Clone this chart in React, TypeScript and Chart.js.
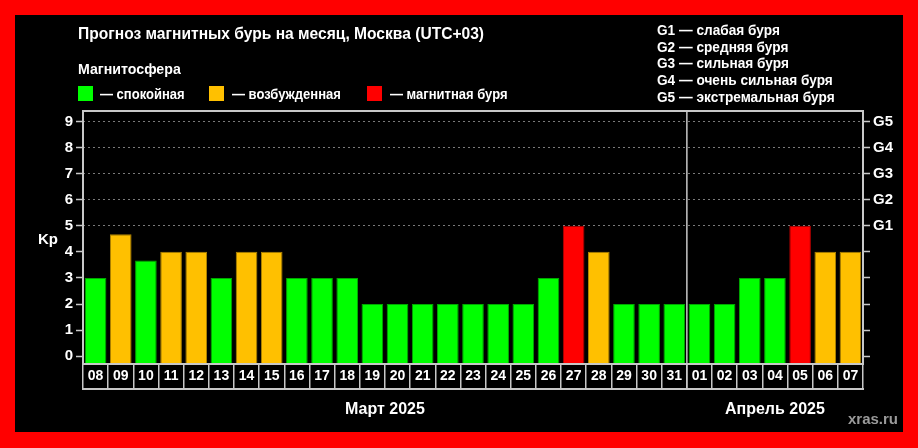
import React, { useEffect, useRef } from "react";
import { Chart, registerables } from "chart.js";

Chart.register(...registerables);

const FONT = "'Liberation Sans', Arial, Helvetica, sans-serif";

const TITLE = "Прогноз магнитных бурь на месяц, Москва (UTC+03)";
const LEGEND_TITLE = "Магнитосфера";
const STATUS_LABELS = ["— спокойная", "— возбужденная", "— магнитная буря"];
const G_LEGEND = [
  "G1 — слабая буря",
  "G2 — средняя буря",
  "G3 — сильная буря",
  "G4 — очень сильная буря",
  "G5 — экстремальная буря",
];

const DAYS = [
  "08", "09", "10", "11", "12", "13", "14", "15", "16", "17", "18", "19",
  "20", "21", "22", "23", "24", "25", "26", "27", "28", "29", "30", "31",
  "01", "02", "03", "04", "05", "06", "07",
];
const KP = [
  3, 4.67, 3.67, 4, 4, 3, 4, 4, 3, 3, 3, 2,
  2, 2, 2, 2, 2, 2, 3, 5, 4, 2, 2, 2,
  2, 2, 3, 3, 5, 4, 4,
];
const MONTH_LABELS = ["Март 2025", "Апрель 2025"];
const MONTH_STARTS = [0, 24];
const KP_TICKS = [0, 1, 2, 3, 4, 5, 6, 7, 8, 9];
const G_TICKS = ["G1", "G2", "G3", "G4", "G5"];
const Y_MIN = -0.3;
const Y_MAX = 9.4;

const GREEN = "#00ff00";
const ORANGE = "#ffc000";
const RED = "#ff0000";
const FRAME = "#c8c8c8";
const GRID = "#7a7a7a";

const fillFor = (v: number) => (v >= 5 ? RED : v >= 4 ? ORANGE : GREEN);
const edgeFor = (v: number) => (v >= 5 ? "#b00000" : v >= 4 ? "#b08400" : "#00a800");

const CELL_H = 25;

const framePlugin = {
  id: "frame",
  afterDatasetsDraw(chart: any) {
    const { ctx, chartArea: a, scales } = chart;
    const x = scales.x;
    const cellBottom = a.bottom + CELL_H;
    const half = (x.getPixelForValue(1) - x.getPixelForValue(0)) / 2;
    ctx.save();
    ctx.strokeStyle = FRAME;
    ctx.lineWidth = 2;
    ctx.strokeRect(a.left, a.top, a.right - a.left, a.bottom - a.top);
    ctx.beginPath();
    ctx.moveTo(a.left - 1, cellBottom);
    ctx.lineTo(a.right + 1, cellBottom);
    ctx.stroke();
    ctx.lineWidth = 1.5;
    MONTH_STARTS.slice(1).forEach((i) => {
      const px = x.getPixelForValue(i) - half;
      ctx.beginPath();
      ctx.moveTo(px, a.top);
      ctx.lineTo(px, cellBottom);
      ctx.stroke();
    });
    ctx.fillStyle = "#ffffff";
    ctx.font = `bold 16px ${FONT}`;
    ctx.textAlign = "center";
    ctx.textBaseline = "middle";
    MONTH_STARTS.forEach((s, k) => {
      const e = k + 1 < MONTH_STARTS.length ? MONTH_STARTS[k + 1] - 1 : DAYS.length - 1;
      const l = x.getPixelForValue(s) - half;
      const r = x.getPixelForValue(e) + half;
      ctx.fillText(MONTH_LABELS[k], (l + r) / 2, 410);
    });
    ctx.restore();
  },
};

const setTicks = (scale: any) => {
  scale.ticks = KP_TICKS.map((v) => ({ value: v }));
};

export default function App() {
  const ref = useRef<HTMLCanvasElement>(null);

  useEffect(() => {
    const canvas = ref.current;
    if (!canvas) return;
    const chart = new Chart(canvas, {
      type: "bar",
      data: {
        labels: DAYS,
        datasets: [
          {
            data: KP,
            base: Y_MIN,
            backgroundColor: KP.map(fillFor),
            borderColor: KP.map(edgeFor),
            borderWidth: 1,
            barPercentage: 0.86,
            categoryPercentage: 1,
          } as any,
        ],
      },
      plugins: [framePlugin],
      options: {
        animation: false,
        responsive: false,
        devicePixelRatio: 1,
        layout: { padding: { top: 111, left: 0, right: 0, bottom: 0 } },
        plugins: {
          legend: { display: false },
          title: { display: false },
          tooltip: { enabled: false },
        },
        scales: {
          x: {
            type: "category",
            offset: true,
            border: { display: false },
            grid: {
              offset: true,
              drawOnChartArea: false,
              drawTicks: true,
              tickLength: CELL_H,
              color: FRAME,
              tickColor: FRAME,
              lineWidth: 1.5,
            },
            ticks: {
              color: "#ffffff",
              font: { family: FONT, size: 14, weight: "bold" },
              padding: -21,
              autoSkip: false,
              maxRotation: 0,
              minRotation: 0,
            },
            afterFit: (s: any) => {
              s.height = 84;
            },
          },
          y: {
            type: "linear",
            position: "left",
            min: Y_MIN,
            max: Y_MAX,
            afterBuildTicks: setTicks,
            border: { display: false, dash: [2, 3] },
            grid: {
              color: (c: any) => (c.tick && c.tick.value >= 5 ? GRID : "rgba(0,0,0,0)"),
              tickColor: FRAME,
              tickLength: 7,
              lineWidth: 1,
              tickWidth: 1.5,
            },
            ticks: {
              color: "#ffffff",
              font: { family: FONT, size: 15, weight: "bold" },
              padding: 3,
            },
            afterFit: (s: any) => {
              s.width = 83;
            },
          },
          y2: {
            type: "linear",
            position: "right",
            min: Y_MIN,
            max: Y_MAX,
            afterBuildTicks: setTicks,
            border: { display: false },
            grid: {
              drawOnChartArea: false,
              tickColor: FRAME,
              color: FRAME,
              tickLength: 7,
              tickWidth: 1.5,
            },
            ticks: {
              color: "#ffffff",
              font: { family: FONT, size: 15, weight: "bold" },
              padding: 3,
              callback: (v: any) => (v >= 5 ? G_TICKS[v - 5] : ""),
            },
            afterFit: (s: any) => {
              s.width = 55;
            },
          },
        },
      } as any,
    });
    return () => chart.destroy();
  }, []);

  const txt = (extra: React.CSSProperties, sx = 1): React.CSSProperties => ({
    position: "absolute",
    whiteSpace: "nowrap",
    transform: sx !== 1 ? `scaleX(${sx})` : undefined,
    transformOrigin: "left center",
    ...extra,
  });

  const squares = [
    { left: 78, color: GREEN, textLeft: 100 },
    { left: 209, color: ORANGE, textLeft: 232 },
    { left: 367, color: RED, textLeft: 390 },
  ];

  return (
    <div
      style={{
        position: "fixed",
        left: 0,
        top: 0,
        width: 918,
        height: 448,
        background: RED,
        fontFamily: FONT,
        fontWeight: "bold",
        color: "#ffffff",
        overflow: "hidden",
      }}
    >
      <div style={{ position: "absolute", left: 15, top: 15, width: 888, height: 417, background: "#000" }} />
      <canvas ref={ref} width={918} height={448} style={{ position: "absolute", left: 0, top: 0 }} />
      <div style={txt({ left: 78, top: 25, fontSize: 16, lineHeight: "18px" }, 0.974)}>{TITLE}</div>
      <div style={txt({ left: 78, top: 60, fontSize: 15, lineHeight: "17px" }, 0.945)}>{LEGEND_TITLE}</div>
      {squares.map((s, i) => (
        <React.Fragment key={i}>
          <div style={{ position: "absolute", left: s.left, top: 86, width: 15, height: 15, background: s.color }} />
          <div style={txt({ left: s.textLeft, top: 85, fontSize: 15, lineHeight: "17px" }, 0.867)}>{STATUS_LABELS[i]}</div>
        </React.Fragment>
      ))}
      <div style={txt({ left: 657, top: 22, fontSize: 14, lineHeight: "16.67px" }, 0.975)}>
        {G_LEGEND.map((g) => (
          <div key={g}>{g}</div>
        ))}
      </div>
      <div style={txt({ left: 38, top: 230, fontSize: 15, lineHeight: "17px" })}>Kp</div>
      <div style={txt({ left: 848, top: 410, fontSize: 15, lineHeight: "17px", color: "#9a9a9a" })}>xras.ru</div>
    </div>
  );
}
